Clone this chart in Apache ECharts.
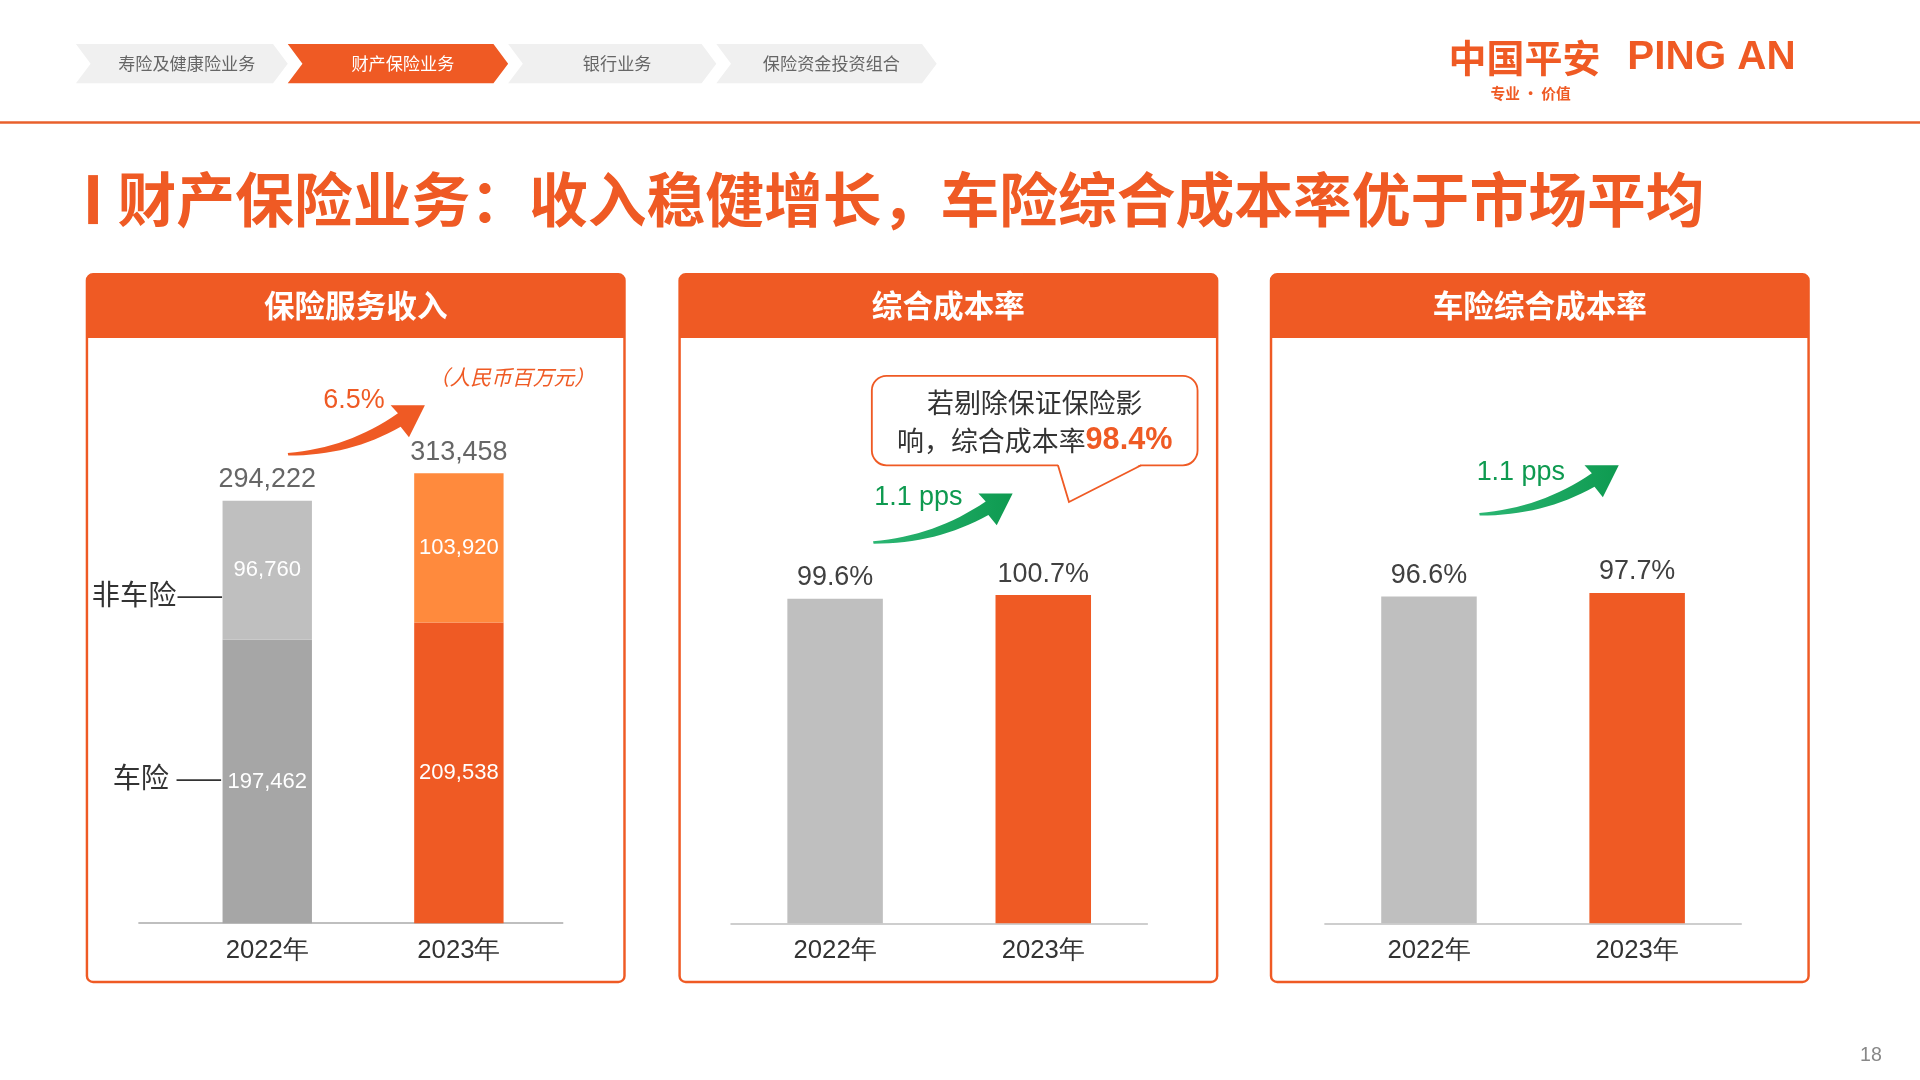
<!DOCTYPE html>
<html><head><meta charset="utf-8">
<script src="https://cdn.jsdelivr.net/npm/echarts@6/dist/echarts.min.js"></script>
<style>html,body{margin:0;padding:0;background:#fff}#c{width:1920px;height:1080px}</style>
</head><body><div id="c"></div>
<script>
const years = ['2022年', '2023年'];
const autoIns = [197462, 209538];
const nonAutoIns = [96760, 103920];
const totals = [294222, 313458];
const combinedRatio = [99.6, 100.7];
const autoRatio = [96.6, 97.7];
const navItems = ['寿险及健康险业务', '财产保险业务', '银行业务', '保险资金投资组合'];

const K = 1920 / 1568;
const s = v => v * K;
const OR = '#EF5A24', LOR = '#FF8A3D', G1 = '#A6A6A6', G2 = '#BFBFBF';
const FONT = 'Liberation Sans, Arial, sans-serif';

const chart = echarts.init(document.getElementById('c'));

// curved arrow polygon: tail (x0,y0) -> tip (x1,y1)
function arrow(x0, y0, x1, y1) {
  const q = (a, b, c, t) => (1-t)*(1-t)*a + 2*(1-t)*t*b + t*t*c;
  const hx = x1 - 22, hy = y1 + 12; // shaft end
  const cx = x0 + (hx - x0) * 0.55, cy = y0 - 2;
  const up = [], lo = [];
  const N = 16;
  for (let i = 0; i <= N; i++) {
    const t = i / N;
    const px = q(x0, cx, hx, t), py = q(y0, cy, hy, t);
    const w = 1 + 4.5 * t;
    up.push([px, py - w]); lo.push([px + w*0.4, py + w]);
  }
  const pts = up.slice();
  pts.push([hx - 6, hy - 12], [x1, y1], [hx + 9, hy + 14]);
  return pts.concat(lo.reverse());
}

const g = [];
const navX = [[62,235],[235,415],[415,585],[585,765]];
navX.forEach((p, i) => {
  const [a, b] = p;
  const active = i === 1;
  g.push({type:'polygon', shape:{points:[[a,36],[b-12,36],[b,52],[b-12,68],[a,68],[a+12,52]]},
    style:{fill: active ? OR : '#F0F0F0'}});
  g.push({type:'text', x:(a+b)/2+4, y:52, style:{text:navItems[i], fill: active ? '#fff' : '#666',
    font:'14px "Noto Sans CJK SC"', align:'center', verticalAlign:'middle'}});
});
g.push({type:'text', x:1183, y:47, style:{text:'中国平安', fill:OR, font:'bold 31px "Noto Sans CJK SC"', verticalAlign:'middle'}});
g.push({type:'text', x:1329, y:47, style:{text:'PING AN', fill:OR, font:'bold 33px Liberation Sans', verticalAlign:'middle'}});
g.push({type:'text', x:1250, y:76, style:{text:'专业 · 价值', fill:OR, font:'bold 12px "Noto Sans CJK SC"', align:'center', verticalAlign:'middle'}});
g.push({type:'rect', shape:{x:0,y:99,width:1568,height:2}, style:{fill:'#E8602C'}});
g.push({type:'rect', shape:{x:72,y:143,width:8,height:40}, style:{fill:OR}});
g.push({type:'text', x:96, y:163, style:{text:'财产保险业务：收入稳健增长，车险综合成本率优于市场平均', fill:OR,
  font:'bold 48px "Noto Sans CJK SC"', verticalAlign:'middle'}});
const panels = [[71,'保险服务收入'],[555,'综合成本率'],[1038,'车险综合成本率']];
panels.forEach(([x, t]) => {
  g.push({type:'rect', shape:{x:x,y:224,width:439,height:578,r:5}, style:{fill:'#fff', stroke:OR, lineWidth:2}});
  g.push({type:'rect', shape:{x:x,y:224,width:439,height:52,r:[5,5,0,0]}, style:{fill:OR}});
  g.push({type:'text', x:x+219.5, y:249, style:{text:t, fill:'#fff', font:'bold 25px "Noto Sans CJK SC"', align:'center', verticalAlign:'middle'}});
});
g.push({type:'rect', shape:{x:113,y:753,width:347,height:1.5}, style:{fill:'#BFBFBF'}});
g.push({type:'text', x:418, y:308, style:{text:'（人民币百万元）', fill:OR, font:'italic 17px "Noto Sans CJK SC"', align:'center', verticalAlign:'middle'}});
g.push({type:'text', x:289, y:327, style:{text:'6.5%', fill:OR, font:'22px Liberation Sans', align:'center', verticalAlign:'middle'}});
g.push({type:'polygon', shape:{points:arrow(235,371,347,331)}, style:{fill:OR}});
g.push({type:'text', x:75, y:485, style:{text:'非车险——', fill:'#333', font:'23px "Noto Sans CJK SC"', verticalAlign:'middle'}});
g.push({type:'text', x:92, y:635, style:{text:'车险 ——', fill:'#333', font:'23px "Noto Sans CJK SC"', verticalAlign:'middle'}});
const GR = new echarts.graphic.LinearGradient(0,0,1,0,[{offset:0,color:'#2BB673'},{offset:1,color:'#0E9A50'}]);
g.push({type:'polygon', shape:{points:arrow(713,443,827,403)}, style:{fill:GR}});
g.push({type:'polygon', shape:{points:arrow(1208,420,1322,380)}, style:{fill:GR}});
g.push({type:'text', x:750, y:406, style:{text:'1.1 pps', fill:'#0E9A50', font:'22px Liberation Sans', align:'center', verticalAlign:'middle'}});
g.push({type:'text', x:1242, y:386, style:{text:'1.1 pps', fill:'#0E9A50', font:'22px Liberation Sans', align:'center', verticalAlign:'middle'}});
g.push({type:'rect', shape:{x:712,y:307,width:266,height:73,r:12}, style:{fill:'#fff', stroke:OR, lineWidth:1.5}});
g.push({type:'polygon', shape:{points:[[864,379],[873,410],[932,379]]}, style:{fill:'#fff'}});
g.push({type:'polyline', shape:{points:[[864,380],[873,410],[932,380]]}, style:{stroke:OR, lineWidth:1.5, fill:null}});
g.push({type:'text', x:845, y:329, style:{text:'若剔除保证保险影', fill:'#333', font:'22px "Noto Sans CJK SC"', align:'center', verticalAlign:'middle'}});
g.push({type:'text', x:845, y:360, style:{text:'{a|响，综合成本率}{b|98.4%}', align:'center', verticalAlign:'middle',
  rich:{a:{fill:'#333', font:'22px "Noto Sans CJK SC"'}, b:{fill:OR, font:'bold 25px Liberation Sans'}}}});
g.push({type:'text', x:1528, y:862, style:{text:'18', fill:'#888', font:'16px Liberation Sans', align:'center', verticalAlign:'middle'}});

function grid(left, width, top) {
  return {left: s(left), width: s(width), top: s(top), height: s(754 - top)};
}
const xA = (i, showLine) => ({type:'category', gridIndex:i, data:years,
  axisLine:{show:showLine, lineStyle:{color:'#BFBFBF', width:1.5}}, axisTick:{show:false},
  axisLabel:{color:'#333', fontSize:s(21), fontFamily:FONT, margin:s(12)}});
const yA = (i, max) => ({type:'value', gridIndex:i, min:0, max:max, show:false, splitLine:{show:false}});
const topLbl = {show:true, position:'top', color:'#404040', fontSize:s(22), fontFamily:FONT, distance:s(6)};
const inLbl = {show:true, position:'inside', color:'#fff', fontSize:s(18), fontFamily:FONT,
  formatter: p => p.value.toLocaleString('en-US')};

chart.setOption({
  animation:false,
  graphic:[{type:'group', scaleX:K, scaleY:K, children:g}],
  grid:[grid(140, 313, 285), grid(597, 340, 408), grid(1082, 340, 395)],
  xAxis:[xA(0,false), xA(1,true), xA(2,true)],
  yAxis:[yA(0,400000), yA(1,130), yA(2,130)],
  series:[
    {type:'bar', xAxisIndex:0, yAxisIndex:0, stack:'a', barWidth:s(73),
      data:autoIns.map((v,i)=>({value:v, itemStyle:{color: i ? OR : G1}})), label:inLbl},
    {type:'bar', xAxisIndex:0, yAxisIndex:0, stack:'a', barWidth:s(73),
      data:nonAutoIns.map((v,i)=>({value:v, itemStyle:{color: i ? LOR : G2}})), label:inLbl},
    {type:'scatter', xAxisIndex:0, yAxisIndex:0, symbolSize:0, data:totals,
      label:Object.assign({}, topLbl, {formatter: p => p.value.toLocaleString('en-US')})},
    {type:'bar', xAxisIndex:1, yAxisIndex:1, barWidth:s(78),
      data:combinedRatio.map((v,i)=>({value:v, itemStyle:{color: i ? OR : G2}})),
      label:Object.assign({}, topLbl, {formatter: p => p.value.toFixed(1)+'%'})},
    {type:'bar', xAxisIndex:2, yAxisIndex:2, barWidth:s(78),
      data:autoRatio.map((v,i)=>({value:v, itemStyle:{color: i ? OR : G2}})),
      label:Object.assign({}, topLbl, {formatter: p => p.value.toFixed(1)+'%'})}
  ]
});
</script></body></html>
